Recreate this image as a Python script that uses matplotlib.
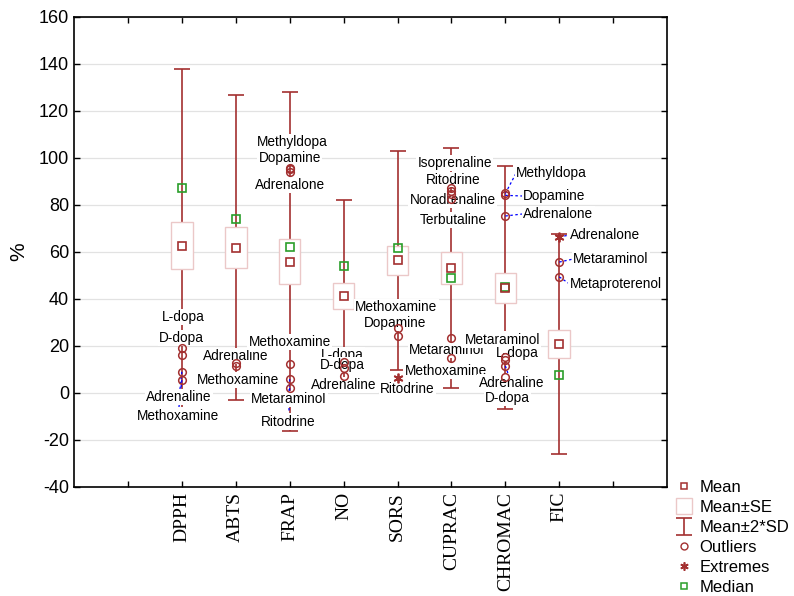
import matplotlib.pyplot as plt
from matplotlib.patches import Rectangle
from matplotlib.lines import Line2D

plt.rcParams['font.family'] = ['Liberation Sans', 'DejaVu Sans']
plt.rcParams['axes.unicode_minus'] = False

# summary statistics per assay
categories = ["DPPH", "ABTS", "FRAP", "NO", "SORS", "CUPRAC", "CHROMAC", "FIC"]
means = [62.7, 61.8, 55.9, 41.3, 56.5, 53.2, 44.8, 20.9]
se = [10.0, 8.7, 9.5, 5.5, 6.2, 6.8, 6.4, 6.0]
sd = [37.6, 32.5, 36.1, 20.4, 23.3, 25.5, 25.9, 23.4]
medians = [87.2, 74.0, 62.1, 54.0, 61.7, 49.0, 45.1, 7.7]

# outliers / extremes (category index, value, compound, is extreme)
pt_cat = [0, 0, 0, 0, 1, 1, 2, 2, 2, 2, 2, 2, 3, 3, 3, 4, 4, 4,
          5, 5, 5, 5, 5, 5, 6, 6, 6, 6, 6, 6, 6, 7, 7, 7]
pt_val = [19.1, 16.2, 9.0, 5.5, 12.8, 11.5, 95.8, 95.2, 94.2, 12.3, 5.9, 2.1,
          13.2, 10.6, 7.2, 27.7, 24.3, 6.4,
          87.2, 86.0, 84.6, 82.6, 23.4, 14.9,
          84.9, 84.1, 75.3, 15.3, 14.0, 11.5, 6.8, 66.4, 55.7, 49.4]
pt_name = ["L-dopa", "D-dopa", "Adrenaline", "Methoxamine",
           "Adrenaline", "Methoxamine",
           "Methyldopa", "Dopamine", "Adrenalone", "Methoxamine", "Metaraminol", "Ritodrine",
           "L-dopa", "D-dopa", "Adrenaline",
           "Methoxamine", "Dopamine", "Ritodrine",
           "Isoprenaline", "Ritodrine", "Noradrenaline", "Terbutaline", "Metaraminol", "Methoxamine",
           "Methyldopa", "Dopamine", "Adrenalone", "Metaraminol", "L-dopa", "Adrenaline", "D-dopa",
           "Adrenalone", "Metaraminol", "Metaproterenol"]
pt_extreme = [False] * 17 + [True] + [False] * 13 + [True, False, False]

# label placement (layout only)
lab_x = [1.02, 1.0, 0.95, 0.93, 2.0, 2.04, 3.05, 3.0, 3.0, 3.0, 2.98, 2.98,
         3.98, 3.98, 4.0, 4.98, 4.96, 5.18,
         6.06, 6.03, 6.02, 6.04, 5.91, 5.89,
         7.2, 7.33, 7.33, 6.94, 7.22, 7.11, 7.04, 8.19, 8.26, 8.19]
lab_y = [32.3, 23.4, -1.7, -9.6, 15.7, 5.5, 106.8, 100.0, 88.5, 21.7, -2.6, -12.3,
         16.2, 11.9, 3.4, 36.6, 29.8, 1.7,
         97.9, 90.6, 82.1, 73.6, 18.3, 9.4,
         93.6, 83.8, 76.2, 22.6, 17.0, 4.3, -2.1, 67.2, 57.0, 46.4]
lab_left = [False] * 24 + [True, True, True, False, False, False, False, True, True, True]
leader = [False, False, True, True, False, False, False, False, False, False, True, True,
          False, False, False, False, False, False,
          False, False, False, False, False, False,
          True, True, True, False, False, True, True, True, True, True]

red = '#a33030'
green = '#2a9e2a'
se_edge = '#ebc8c8'

fig = plt.figure(figsize=(7.94, 5.96), dpi=100)
ax = fig.add_axes([0.0932, 0.183, 0.747, 0.7885])

xs = list(range(1, len(categories) + 1))
box_w = 0.4

# whiskers mean +/- 2 SD
ax.errorbar(xs, means, yerr=[2 * s for s in sd], fmt='none', ecolor=red,
            elinewidth=1.2, capsize=5.5, capthick=1.2, zorder=2, label='Mean±2*SD')

# SE boxes
for x, m, s in zip(xs, means, se):
    ax.add_patch(Rectangle((x - box_w / 2, m - s), box_w, 2 * s, facecolor='white',
                           edgecolor=se_edge, lw=1.0, zorder=3))

ax.plot(xs, medians, 's', ms=6.3, mfc='none', mec=green, mew=1.2, zorder=5)
ax.plot(xs, means, 's', ms=6.3, mfc='none', mec=red, mew=1.2, zorder=6)

for i in range(len(pt_val)):
    x = xs[pt_cat[i]]
    y = pt_val[i]
    if pt_extreme[i]:
        ax.plot(x, y, marker=(6, 2, 0), ms=7, color=red, mew=1.3, zorder=8)
    else:
        ax.plot(x, y, 'o', ms=5.5, mfc='none', mec=red, mew=1.1, zorder=8)
    if leader[i]:
        ax.plot([x, lab_x[i]], [y, lab_y[i]], color='blue', lw=0.9,
                dashes=(2, 2), zorder=4)
    ax.text(lab_x[i], lab_y[i], pt_name[i], fontsize=9.8,
            ha='left' if lab_left[i] else 'center', va='center', zorder=7,
            bbox=dict(boxstyle='square,pad=0.1', fc='white', ec='none'))

ax.set_xlim(-1, 10)
ax.set_ylim(-40, 160)
ax.set_xticks(range(0, 10))
ax.set_xticklabels([''] + categories + [''], rotation=90, fontsize=14,
                   family='Liberation Serif')
ax.set_yticks(range(-40, 161, 20))
ax.tick_params(axis='y', labelsize=13)
ax.tick_params(direction='in', top=True, right=True, length=4, width=1)
ax.yaxis.grid(True, color='#e2e2e2', lw=0.9)
ax.set_axisbelow(True)
for sp in ax.spines.values():
    sp.set_linewidth(1.2)
ax.set_ylabel('%', fontsize=15, labelpad=8)

handles = [
    Line2D([], [], ls='none', marker='s', ms=5, mfc='none', mec=red, mew=1.1),
    Line2D([], [], ls='none', marker='s', ms=12, mfc='white', mec=se_edge, mew=1.0),
    ax.containers[0],
    Line2D([], [], ls='none', marker='o', ms=5, mfc='none', mec=red, mew=1.0),
    Line2D([], [], ls='none', marker=(6, 2, 0), ms=6, color=red, mew=1.2),
    Line2D([], [], ls='none', marker='s', ms=5, mfc='none', mec=green, mew=1.1),
]
labels = ['Mean', 'Mean±SE', 'Mean±2*SD', 'Outliers', 'Extremes', 'Median']
fig.legend(handles, labels, loc='upper left', bbox_to_anchor=(676 / 794, 1 - 480 / 596),
           frameon=False, fontsize=12, handlelength=1.0, handletextpad=0.4,
           labelspacing=0.3, borderpad=0, borderaxespad=0)

fig.savefig('out.png', dpi=100)
